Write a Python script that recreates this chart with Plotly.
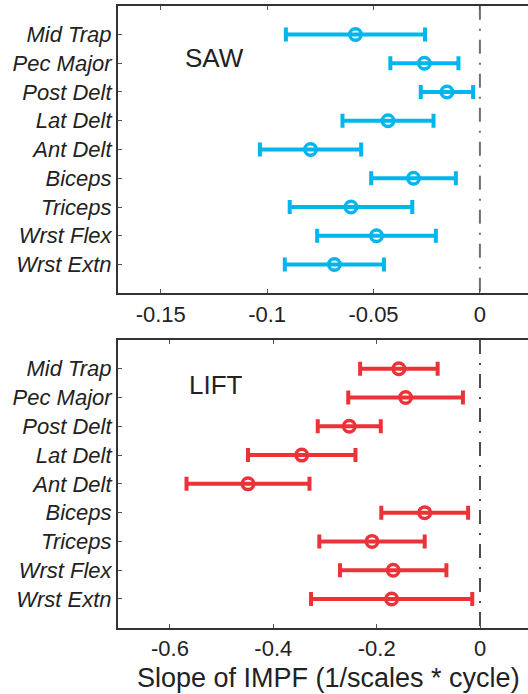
import plotly.graph_objects as go

muscles = ["Mid Trap", "Pec Major", "Post Delt", "Lat Delt", "Ant Delt",
           "Biceps", "Triceps", "Wrst Flex", "Wrst Extn"]
saw_slope = [-0.0585, -0.0261, -0.0155, -0.0432, -0.0796, -0.0312, -0.0606, -0.0486, -0.0684]
saw_err = [0.0327, 0.0160, 0.0123, 0.0214, 0.0238, 0.0199, 0.0288, 0.0279, 0.0233]
lift_slope = [-0.157, -0.144, -0.253, -0.345, -0.449, -0.107, -0.209, -0.168, -0.171]
lift_err = [0.075, 0.111, 0.061, 0.104, 0.119, 0.084, 0.102, 0.103, 0.156]
saw_ticks = [-0.15, -0.1, -0.05, 0]
saw_ticktext = ["-0.15", "-0.1", "-0.05", "0"]
lift_ticks = [-0.6, -0.4, -0.2, 0]
lift_ticktext = ["-0.6", "-0.4", "-0.2", "0"]

BLUE = "rgb(0,182,236)"
RED = "rgb(236,50,56)"
FONT = "Liberation Sans, Arial, Helvetica, sans-serif"

fig = go.Figure()

def add_panel(xs, errs, color, xa, ya):
    fig.add_trace(go.Scatter(
        x=xs, y=muscles, mode="markers", xaxis=xa, yaxis=ya,
        marker=dict(symbol="circle-open", size=11.5, color=color,
                    line=dict(width=3.5, color=color)),
        error_x=dict(type="data", array=errs, symmetric=True, color=color,
                     thickness=4, width=7),
        showlegend=False, hoverinfo="x+y"))

add_panel(saw_slope, saw_err, BLUE, "x", "y")
add_panel(lift_slope, lift_err, RED, "x2", "y2")

cat_order = list(reversed(muscles))
ytick_text = ["<i>%s</i>" % m for m in cat_order]

common_x = dict(showline=True, linecolor="#333333", linewidth=2, mirror="ticks",
                ticks="inside", ticklen=4, tickcolor="#555555", tickwidth=1,
                showgrid=False, zeroline=False, automargin=False,
                tickfont=dict(family=FONT, size=22, color="#222222"))
common_y = dict(type="category", categoryorder="array", categoryarray=cat_order,
                tickmode="array", tickvals=cat_order, ticktext=ytick_text,
                range=[-1, 9], showline=True, linecolor="#333333", linewidth=2,
                ticks="inside", ticklen=4, tickcolor="#555555", tickwidth=1,
                showgrid=False, zeroline=False, automargin=False,
                tickfont=dict(family=FONT, size=22, color="#222222"))

fig.update_layout(
    width=528, height=694,
    margin=dict(l=118, r=0, t=0, b=0, autoexpand=False),
    paper_bgcolor="white", plot_bgcolor="white",
    xaxis=dict(domain=[0, 1], anchor="y", range=[-0.1701, 0.0226],
               tickmode="array", tickvals=saw_ticks, ticktext=saw_ticktext, **common_x),
    yaxis=dict(domain=[0.5774, 0.9918], anchor="x", **common_y),
    xaxis2=dict(domain=[0, 1], anchor="y2", range=[-0.7006, 0.0929],
                tickmode="array", tickvals=lift_ticks, ticktext=lift_ticktext, **common_x),
    yaxis2=dict(domain=[0.0955, 0.5101], anchor="x2", **common_y),
)

# zero reference lines (dash-dot)
fig.add_shape(type="line", xref="x", yref="y domain", x0=0, x1=0, y0=1, y1=0,
              line=dict(color="#707070", width=2, dash="14px,9px,2px,9px"), layer="below")
fig.add_shape(type="line", xref="x2", yref="y2 domain", x0=0, x1=0, y0=1, y1=0,
              line=dict(color="#111111", width=1.5, dash="14px,9px,2px,9px"), layer="below")

fig.add_annotation(text="SAW", xref="x", yref="y", x=-0.1395, y=7.19,
                   xanchor="left", yanchor="middle", showarrow=False,
                   font=dict(family=FONT, size=26, color="#222222"))
fig.add_annotation(text="LIFT", xref="x2", yref="y2", x=-0.568, y=7.44,
                   xanchor="left", yanchor="middle", showarrow=False,
                   font=dict(family=FONT, size=26, color="#222222"))
fig.add_annotation(text="Slope of IMPF (1/scales * cycle)", xref="paper", yref="paper",
                   x=(328 - 118) / 410, y=1 - 678 / 694, xanchor="center", yanchor="middle",
                   showarrow=False, font=dict(family=FONT, size=27, color="#222222"))

fig.write_html("out.html", config={"displayModeBar": False},
               post_script="document.body.style.margin='0';document.body.style.padding='0';"
                           "document.body.style.overflow='hidden';")
